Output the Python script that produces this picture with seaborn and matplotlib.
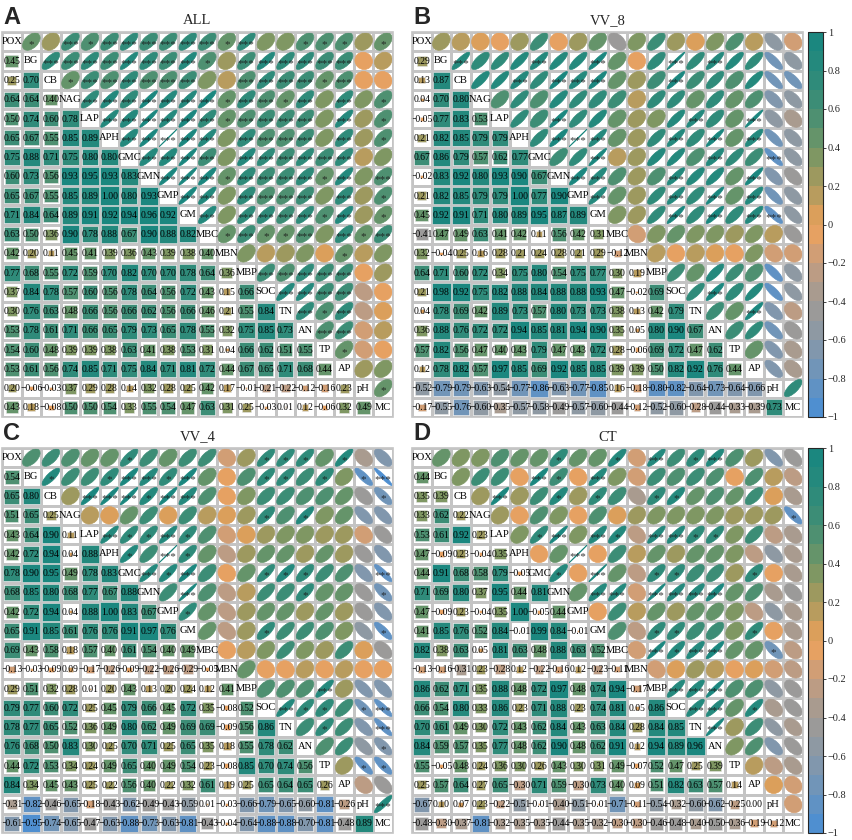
import numpy as np
import matplotlib
matplotlib.use("Agg")
import matplotlib.pyplot as plt
import seaborn as sns
from matplotlib.colors import LinearSegmentedColormap, ListedColormap, Normalize
from matplotlib.patches import Rectangle, Ellipse
from matplotlib.cm import ScalarMappable

# variaveis (ordem da matriz)
variables = ["POX", "BG", "CB", "NAG", "LAP", "APH", "GMC", "GMN", "GMP", "GM",
             "MBC", "MBN", "MBP", "SOC", "TN", "AN", "TP", "AP", "pH", "MC"]

# triangulo inferior, linha a linha (linha i tem i valores)
all_rows = [
    [0.45],
    [0.25, 0.70],
    [0.64, 0.64, 0.40],
    [0.50, 0.74, 0.60, 0.78],
    [0.65, 0.67, 0.55, 0.85, 0.89],
    [0.75, 0.88, 0.71, 0.75, 0.80, 0.80],
    [0.60, 0.73, 0.56, 0.93, 0.95, 0.93, 0.83],
    [0.65, 0.67, 0.55, 0.85, 0.89, 1.00, 0.80, 0.93],
    [0.71, 0.84, 0.64, 0.89, 0.91, 0.92, 0.94, 0.96, 0.92],
    [0.63, 0.50, 0.36, 0.90, 0.78, 0.88, 0.67, 0.90, 0.88, 0.82],
    [0.42, 0.20, 0.11, 0.45, 0.41, 0.39, 0.36, 0.43, 0.39, 0.38, 0.40],
    [0.77, 0.68, 0.55, 0.72, 0.59, 0.70, 0.82, 0.70, 0.70, 0.78, 0.64, 0.36],
    [0.37, 0.84, 0.78, 0.57, 0.60, 0.56, 0.78, 0.64, 0.56, 0.72, 0.43, 0.15, 0.66],
    [0.30, 0.76, 0.63, 0.48, 0.66, 0.56, 0.66, 0.62, 0.56, 0.66, 0.46, 0.21, 0.55, 0.84],
    [0.53, 0.78, 0.61, 0.71, 0.66, 0.65, 0.79, 0.73, 0.65, 0.78, 0.55, 0.32, 0.75, 0.85, 0.73],
    [0.54, 0.60, 0.48, 0.39, 0.39, 0.38, 0.63, 0.41, 0.38, 0.53, 0.31, 0.04, 0.66, 0.62, 0.51, 0.55],
    [0.53, 0.61, 0.56, 0.74, 0.85, 0.71, 0.75, 0.84, 0.71, 0.81, 0.72, 0.44, 0.67, 0.65, 0.71, 0.68, 0.44],
    [0.20, -0.06, -0.03, 0.37, 0.29, 0.28, 0.14, 0.32, 0.28, 0.25, 0.42, 0.17, -0.01, -0.21, -0.22, -0.12, -0.16, 0.23],
    [0.43, 0.18, -0.08, 0.50, 0.50, 0.54, 0.33, 0.55, 0.54, 0.47, 0.63, 0.31, 0.25, -0.03, 0.01, 0.12, -0.06, 0.32, 0.49],
]

vv8_rows = [
    [0.29],
    [0.13, 0.87],
    [0.04, 0.70, 0.80],
    [-0.05, 0.77, 0.83, 0.53],
    [0.21, 0.82, 0.85, 0.79, 0.79],
    [0.67, 0.86, 0.79, 0.57, 0.62, 0.77],
    [-0.02, 0.83, 0.92, 0.80, 0.93, 0.90, 0.67],
    [0.21, 0.82, 0.85, 0.79, 0.79, 1.00, 0.77, 0.90],
    [0.45, 0.92, 0.91, 0.71, 0.80, 0.89, 0.95, 0.87, 0.89],
    [-0.41, 0.47, 0.49, 0.63, 0.41, 0.42, 0.11, 0.56, 0.42, 0.31],
    [0.32, -0.04, 0.25, 0.16, 0.28, 0.21, 0.24, 0.28, 0.21, 0.29, -0.12],
    [0.64, 0.71, 0.60, 0.72, 0.34, 0.75, 0.80, 0.54, 0.75, 0.77, 0.30, 0.19],
    [0.21, 0.98, 0.92, 0.75, 0.82, 0.88, 0.84, 0.88, 0.88, 0.93, 0.47, -0.02, 0.69],
    [0.04, 0.78, 0.69, 0.42, 0.89, 0.73, 0.57, 0.80, 0.73, 0.73, 0.38, 0.13, 0.42, 0.79],
    [0.36, 0.88, 0.76, 0.72, 0.72, 0.94, 0.85, 0.81, 0.94, 0.90, 0.35, 0.05, 0.80, 0.90, 0.67],
    [0.57, 0.82, 0.56, 0.47, 0.40, 0.43, 0.79, 0.47, 0.43, 0.72, 0.28, -0.06, 0.69, 0.72, 0.47, 0.62],
    [0.12, 0.78, 0.82, 0.57, 0.97, 0.85, 0.69, 0.92, 0.85, 0.85, 0.39, 0.39, 0.50, 0.82, 0.92, 0.76, 0.44],
    [-0.52, -0.79, -0.79, -0.63, -0.54, -0.77, -0.86, -0.63, -0.77, -0.85, 0.16, -0.18, -0.80, -0.82, -0.64, -0.73, -0.64, -0.66],
    [-0.17, -0.55, -0.76, -0.60, -0.35, -0.57, -0.58, -0.49, -0.57, -0.60, -0.44, -0.12, -0.52, -0.60, -0.28, -0.44, -0.33, -0.39, 0.73],
]

vv4_rows = [
    [0.54],
    [0.65, 0.80],
    [0.51, 0.65, 0.25],
    [0.43, 0.64, 0.90, 0.11],
    [0.42, 0.72, 0.94, 0.04, 0.88],
    [0.78, 0.90, 0.95, 0.49, 0.78, 0.83],
    [0.68, 0.85, 0.80, 0.68, 0.77, 0.67, 0.88],
    [0.42, 0.72, 0.94, 0.04, 0.88, 1.00, 0.83, 0.67],
    [0.65, 0.91, 0.85, 0.61, 0.76, 0.76, 0.91, 0.97, 0.76],
    [0.69, 0.43, 0.58, 0.18, 0.57, 0.40, 0.61, 0.54, 0.40, 0.49],
    [-0.13, -0.03, -0.09, 0.09, -0.17, -0.26, -0.09, -0.22, -0.26, -0.29, -0.05],
    [0.29, 0.51, 0.32, 0.28, 0.01, 0.20, 0.43, 0.13, 0.20, 0.24, 0.12, 0.41],
    [0.79, 0.77, 0.60, 0.72, 0.25, 0.45, 0.79, 0.66, 0.45, 0.72, 0.35, -0.08, 0.52],
    [0.78, 0.77, 0.65, 0.52, 0.36, 0.49, 0.80, 0.62, 0.49, 0.69, 0.69, -0.09, 0.56, 0.86],
    [0.76, 0.68, 0.50, 0.83, 0.30, 0.25, 0.70, 0.71, 0.25, 0.65, 0.35, 0.18, 0.55, 0.78, 0.62],
    [0.44, 0.72, 0.53, 0.34, 0.24, 0.49, 0.65, 0.40, 0.49, 0.54, 0.23, -0.08, 0.85, 0.70, 0.74, 0.56],
    [0.84, 0.34, 0.45, 0.43, 0.25, 0.22, 0.56, 0.40, 0.22, 0.32, 0.61, 0.19, 0.25, 0.65, 0.64, 0.65, 0.26],
    [-0.31, -0.82, -0.46, -0.65, -0.18, -0.43, -0.62, -0.49, -0.43, -0.59, 0.01, -0.03, -0.66, -0.79, -0.65, -0.60, -0.81, -0.26],
    [-0.61, -0.95, -0.74, -0.65, -0.47, -0.63, -0.88, -0.73, -0.63, -0.81, -0.43, -0.04, -0.64, -0.88, -0.88, -0.70, -0.81, -0.48, 0.89],
]

ct_rows = [
    [0.44],
    [0.35, 0.39],
    [0.33, 0.62, 0.22],
    [0.53, 0.61, 0.92, 0.23],
    [0.47, -0.09, 0.23, -0.04, 0.35],
    [0.44, 0.91, 0.68, 0.58, 0.79, -0.05],
    [0.71, 0.69, 0.80, 0.37, 0.95, 0.44, 0.81],
    [0.47, -0.09, 0.23, -0.04, 0.35, 1.00, -0.05, 0.44],
    [0.41, 0.85, 0.76, 0.52, 0.84, -0.01, 0.99, 0.84, -0.01],
    [0.82, 0.38, 0.63, 0.05, 0.81, 0.63, 0.48, 0.88, 0.63, 0.52],
    [-0.13, -0.16, -0.31, 0.23, -0.28, 0.12, -0.22, -0.16, 0.12, -0.23, -0.11],
    [0.86, 0.62, 0.71, 0.35, 0.88, 0.48, 0.72, 0.97, 0.48, 0.74, 0.94, -0.17],
    [0.66, 0.54, 0.80, 0.33, 0.86, 0.23, 0.71, 0.88, 0.23, 0.74, 0.81, 0.05, 0.86],
    [0.70, 0.61, 0.49, 0.30, 0.72, 0.43, 0.62, 0.84, 0.43, 0.63, 0.84, 0.28, 0.84, 0.85],
    [0.84, 0.59, 0.57, 0.35, 0.77, 0.48, 0.62, 0.90, 0.48, 0.62, 0.91, 0.12, 0.94, 0.89, 0.96],
    [0.55, -0.05, 0.48, 0.24, 0.36, 0.30, 0.26, 0.43, 0.30, 0.31, 0.49, -0.07, 0.52, 0.47, 0.25, 0.39],
    [0.25, 0.57, 0.64, 0.27, 0.65, -0.30, 0.71, 0.59, -0.30, 0.73, 0.40, 0.09, 0.51, 0.82, 0.63, 0.57, 0.14],
    [-0.67, 0.10, 0.07, 0.23, -0.22, -0.51, -0.01, -0.40, -0.51, -0.01, -0.71, -0.11, -0.54, -0.32, -0.60, -0.62, -0.25, 0.00],
    [-0.48, -0.30, -0.37, -0.81, -0.32, -0.35, -0.35, -0.44, -0.35, -0.32, -0.30, -0.30, -0.46, -0.48, -0.40, -0.50, -0.36, -0.19, -0.12],
]

panel_letters = ["A", "B", "C", "D"]
panel_titles = ["ALL", "VV_8", "VV_4", "CT"]
panel_data = [all_rows, vv8_rows, vv4_rows, ct_rows]
# limiares aproximados de |r| para "*" e "***"
star_cut = [(0.40, 0.55), (None, 0.85), (0.70, 0.85), (0.69, 0.84)]

# paleta em faixas (igual a barra de cores)
anchors = ["#4f8fd0", "#6092c4", "#7095b8", "#7f97ae", "#8c99a5", "#979a9b",
           "#a59b92", "#b59c88", "#c89c7c", "#e0a06a", "#eda25a", "#c99d5c",
           "#ad9b5f", "#93985f", "#789664", "#5e936c", "#4b9072", "#3a8d77",
           "#2f8b7a", "#24897d", "#1b877f"]
smooth = LinearSegmentedColormap.from_list("corr", anchors)
cmap = ListedColormap(smooth(np.linspace(0, 1, 20)))
norm = Normalize(-1, 1)

sns.set_style("white")
plt.rcParams["font.family"] = ["Liberation Serif", "DejaVu Serif"]

W, H = 852, 840
fig = plt.figure(figsize=(W / 100, H / 100), dpi=100)

grid_px = [(2, 32), (412, 32), (2, 448), (412, 448)]
gw, gh = 391, 385
n = len(variables)


def fmt(v):
    return f"{v:.2f}".replace("-", "\u2212")


for k in range(4):
    x0, y0 = grid_px[k]
    ax = fig.add_axes([x0 / W, 1 - (y0 + gh) / H, gw / W, gh / H])
    mat = np.eye(n)
    for i, row in enumerate(panel_data[k], start=1):
        for j, v in enumerate(row):
            mat[i, j] = v
            mat[j, i] = v

    # grelha branca com linhas cinzentas
    sns.heatmap(np.zeros((n, n)), ax=ax, cmap=ListedColormap(["white"]),
                cbar=False, linewidths=0.9, linecolor="#c4c4c4",
                xticklabels=False, yticklabels=False)
    ax.add_patch(Rectangle((0, 0), n, n, fill=False, ec="#c4c4c4", lw=1.2,
                           clip_on=False, zorder=5))

    c1, c3 = star_cut[k]
    for i in range(n):
        for j in range(n):
            r = mat[i, j]
            cx, cy = j + 0.5, i + 0.5
            col = cmap(norm(r))
            if i == j:
                ax.text(cx, cy, variables[i], ha="center", va="center",
                        fontsize=7.6, color="black", zorder=4)
            elif i > j:
                s = 0.96 * np.sqrt(abs(r))
                ax.add_patch(Rectangle((cx - s / 2, cy - s / 2), s, s, fc=col,
                                       ec="#e6e6e6", lw=0.4, zorder=2))
                ax.text(cx, cy + 0.03, fmt(r), ha="center", va="center",
                        fontsize=6.9, color="black", zorder=4)
            else:
                a = 0.9 * np.sqrt(1 + r)
                b = max(0.9 * np.sqrt(max(1 - r, 0)), 0.03)
                ax.add_patch(Ellipse((cx, cy), a, b, angle=-45, fc=col,
                                     ec=col, lw=0.5, zorder=2))
                ar = abs(r)
                star = ""
                if ar >= c3:
                    star = "***"
                elif c1 is not None and ar >= c1:
                    star = "*"
                if star:
                    ax.text(cx, cy + 0.15, star, ha="center", va="center",
                            fontsize=8, color="#1a1a1a", alpha=0.85, zorder=4)

    ax.set_xlim(0, n)
    ax.set_ylim(n, 0)
    ax.set_xticks([])
    ax.set_yticks([])
    for sp in ax.spines.values():
        sp.set_visible(False)

    fig.text((x0 + gw / 2) / W, 1 - (y0 - 11) / H, panel_titles[k],
             ha="center", va="center", fontsize=10.5)
    fig.text((x0 + 1) / W, 1 - (y0 - 26) / H, panel_letters[k],
             ha="left", va="top", fontsize=17, fontweight="bold",
             family=["Liberation Sans", "DejaVu Sans"])

    if k in (1, 3):
        cax = fig.add_axes([808 / W, 1 - (y0 + gh) / H, 15 / W, gh / H])
        cb = fig.colorbar(ScalarMappable(norm=norm, cmap=cmap), cax=cax)
        ticks = np.round(np.linspace(-1, 1, 11), 1)
        cb.set_ticks(ticks)
        cb.set_ticklabels([("%g" % t).replace("-", "\u2212") for t in ticks])
        cb.ax.tick_params(labelsize=7.4, length=2, width=0.6, pad=1.5)
        cb.outline.set_linewidth(0.8)

fig.savefig("out.png", dpi=100)
